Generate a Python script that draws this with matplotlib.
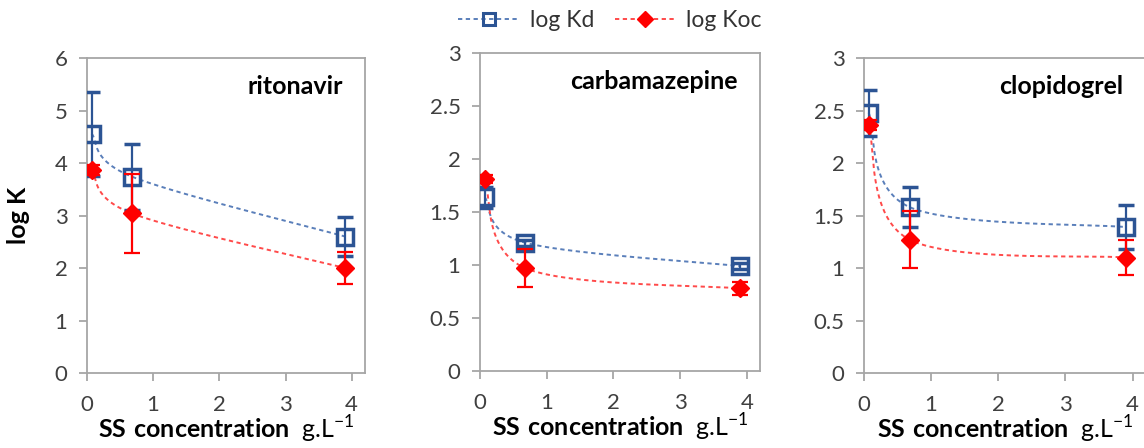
import numpy as np
import matplotlib
matplotlib.use("Agg")
import matplotlib.pyplot as plt
from matplotlib.lines import Line2D
from matplotlib.ticker import FuncFormatter

plt.rcParams['font.family'] = ['Lato', 'DejaVu Sans']
plt.rcParams['mathtext.fontset'] = 'custom'
plt.rcParams['mathtext.rm'] = 'Lato'
plt.rcParams['mathtext.bf'] = 'Lato:bold'

# SS concentration (g/L)
ss_conc = [0.07, 0.68, 3.9]

compounds = ['ritonavir', 'carbamazepine', 'clopidogrel']

ritonavir_kd = [4.56, 3.74, 2.60]
ritonavir_kd_err = [0.80, 0.63, 0.37]
ritonavir_koc = [3.87, 3.04, 2.00]
ritonavir_koc_err = [0.10, 0.75, 0.30]

carbamazepine_kd = [1.64, 1.21, 0.99]
carbamazepine_kd_err = [0.10, 0.03, 0.03]
carbamazepine_koc = [1.81, 0.97, 0.78]
carbamazepine_koc_err = [0.04, 0.18, 0.06]

clopidogrel_kd = [2.48, 1.58, 1.39]
clopidogrel_kd_err = [0.22, 0.19, 0.21]
clopidogrel_koc = [2.36, 1.27, 1.10]
clopidogrel_koc_err = [0.05, 0.27, 0.17]

kd_vals = [ritonavir_kd, carbamazepine_kd, clopidogrel_kd]
kd_errs = [ritonavir_kd_err, carbamazepine_kd_err, clopidogrel_kd_err]
koc_vals = [ritonavir_koc, carbamazepine_koc, clopidogrel_koc]
koc_errs = [ritonavir_koc_err, carbamazepine_koc_err, clopidogrel_koc_err]
y_max = [6, 3, 3]
y_step = [1, 0.5, 0.5]

BLUE = '#2C5494'
BLUE_LINE = '#5A7FBA'
RED = '#FF0000'
RED_LINE = '#FF4A4A'
GRAY = '#A6A6A6'
TXT = '#404040'
FS = 18


def smooth_curve(ax, x, y, n=80):
    # Excel-style smoothed line (Bezier through points), built in screen space
    pts = ax.transData.transform(np.column_stack([x, y]))
    m = len(pts)
    out = []
    for i in range(m - 1):
        p0 = pts[max(i - 1, 0)]
        p1 = pts[i]
        p2 = pts[i + 1]
        p3 = pts[min(i + 2, m - 1)]
        c1 = p1 + (p2 - p0) / 6.0
        c2 = p2 - (p3 - p1) / 6.0
        t = np.linspace(0, 1, n)[:, None]
        seg = ((1 - t) ** 3) * p1 + 3 * ((1 - t) ** 2) * t * c1 + 3 * (1 - t) * t ** 2 * c2 + t ** 3 * p2
        out.append(seg if i == 0 else seg[1:])
    curve = np.vstack(out)
    return ax.transData.inverted().transform(curve)


fig = plt.figure(figsize=(11.44, 4.48), dpi=100)
positions = [
    [0.0760, 0.1674, 0.2430, 0.7031],
    [0.4196, 0.1719, 0.2448, 0.7098],
    [0.7552, 0.1674, 0.2465, 0.7031],
]

for i, name in enumerate(compounds):
    ax = fig.add_axes(positions[i])
    ax.set_xlim(0, 4.2)
    ax.set_ylim(0, y_max[i])
    ax.set_xticks([0, 1, 2, 3, 4])
    ax.set_yticks(np.arange(0, y_max[i] + 0.01, y_step[i]))
    ax.yaxis.set_major_formatter(FuncFormatter(lambda v, p: f'{v:g}'))
    for s in ax.spines.values():
        s.set_color(GRAY)
        s.set_linewidth(1.3)
    ax.tick_params(direction='out', length=6, width=1.3, color=GRAY,
                   labelsize=16, labelcolor=TXT, pad=8)
    ax.tick_params(axis='x', pad=10)
    ax.patch.set_alpha(0)

    kd_curve = smooth_curve(ax, ss_conc, kd_vals[i])
    koc_curve = smooth_curve(ax, ss_conc, koc_vals[i])
    ax.plot(kd_curve[:, 0], kd_curve[:, 1], color=BLUE_LINE, lw=1.4,
            ls=(0, (2.2, 1.8)), zorder=2)
    ax.plot(koc_curve[:, 0], koc_curve[:, 1], color=RED_LINE, lw=1.4,
            ls=(0, (2.2, 1.8)), zorder=2)

    ax.errorbar(ss_conc, kd_vals[i], yerr=kd_errs[i], fmt='s', ms=11,
                mfc='none', mec=BLUE, mew=2.5, ecolor=BLUE, elinewidth=1.6,
                capsize=6, capthick=1.6, zorder=3)
    ax.errorbar(ss_conc, koc_vals[i], yerr=koc_errs[i], fmt='D', ms=9,
                mfc=RED, mec=RED, ecolor=RED, elinewidth=1.6,
                capsize=6, capthick=1.6, zorder=4)

    ax.text(0.92, 0.91, name, transform=ax.transAxes, ha='right', va='center',
            fontsize=FS, fontweight='bold', color='black')
    ax.set_xlabel(r'$\mathbf{SS\ concentration}$  g.L$^{-1}$', fontsize=FS,
                  color='black', labelpad=-1)

fig.text(0.016, 0.52, 'log K', rotation=90, ha='center', va='center',
         fontsize=FS, fontweight='bold')

handles = [
    Line2D([], [], color=BLUE_LINE, lw=1.4, ls=(0, (2.2, 1.8)), marker='s',
           ms=9, mfc='none', mec=BLUE, mew=2.2),
    Line2D([], [], color=RED_LINE, lw=1.4, ls=(0, (2.2, 1.8)), marker='D',
           ms=8, mfc=RED, mec=RED),
]
fig.legend(handles, ['log Kd', 'log Koc'], loc='center', ncol=2,
           bbox_to_anchor=(0.533, 0.955), frameon=False, fontsize=16.5,
           handlelength=2.7, handletextpad=0.4, columnspacing=0.9,
           labelcolor='#333333')

fig.savefig('out.png', dpi=100)
